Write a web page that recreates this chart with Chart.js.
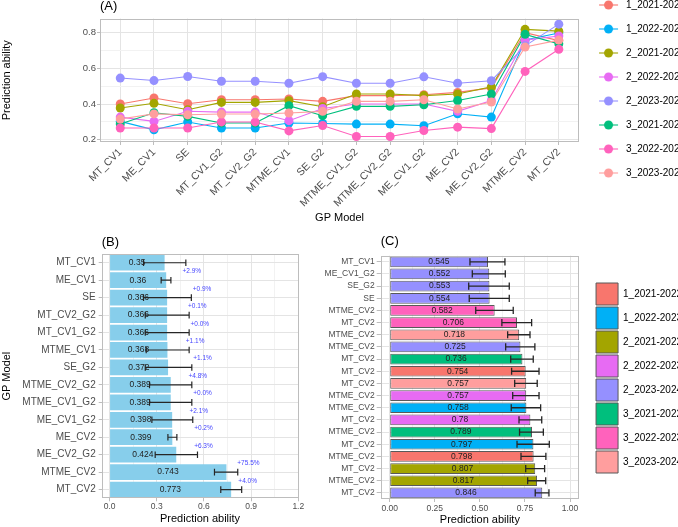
<!DOCTYPE html>
<html>
<head>
<meta charset="utf-8">
<script src="https://cdn.jsdelivr.net/npm/chart.js@4.4.1/dist/chart.umd.min.js"></script>
<style>
  html, body { margin: 0; padding: 0; background: #fff; }
  body { position: relative; width: 678px; height: 527px; overflow: hidden; }
  canvas { position: absolute; }
</style>
</head>
<body>
<canvas id="chartA" width="695" height="243" style="left:0;top:-14px"></canvas>
<canvas id="chartB" width="320" height="298" style="left:0;top:229px"></canvas>
<canvas id="chartC" width="392" height="298" style="left:300px;top:229px"></canvas>
<script>
Chart.defaults.font.family = "'Liberation Sans', Arial, sans-serif";
Chart.defaults.color = "#4D4D4D";

// shared
var gpModels = ["MT_CV1", "ME_CV1", "SE", "MT_CV1_G2", "MT_CV2_G2", "MTME_CV1", "SE_G2",
  "MTME_CV1_G2", "MTME_CV2_G2", "ME_CV1_G2", "ME_CV2", "ME_CV2_G2", "MTME_CV2", "MT_CV2"];
var groups = ["1_2021-2022", "1_2022-2023", "2_2021-2022", "2_2022-2023",
  "2_2023-2024", "3_2021-2022", "3_2022-2023", "3_2023-2024"];
var groupColors = ["#F8766D", "#00B0F6", "#A3A500", "#E76BF3", "#9590FF", "#00BF7D", "#FF62BC", "#FF9E9E"];

// (A) prediction ability per group, in gpModels order
var pa1_2122 = [0.400, 0.434, 0.402, 0.424, 0.424, 0.428, 0.415, 0.447, 0.447, 0.452, 0.465, 0.490, 0.798, 0.754];
var pa1_2223 = [0.303, 0.256, 0.300, 0.266, 0.266, 0.294, 0.291, 0.288, 0.288, 0.279, 0.346, 0.327, 0.758, 0.797];
var pa2_2122 = [0.378, 0.404, 0.368, 0.409, 0.409, 0.419, 0.385, 0.456, 0.456, 0.447, 0.456, 0.496, 0.817, 0.807];
var pa2_2223 = [0.327, 0.303, 0.360, 0.355, 0.355, 0.307, 0.375, 0.400, 0.400, 0.400, 0.359, 0.420, 0.757, 0.780];
var pa2_2324 = [0.545, 0.531, 0.554, 0.527, 0.527, 0.516, 0.553, 0.516, 0.516, 0.552, 0.516, 0.530, 0.725, 0.846];
var pa3_2122 = [0.288, 0.351, 0.331, 0.294, 0.294, 0.391, 0.335, 0.387, 0.387, 0.396, 0.420, 0.456, 0.789, 0.736];
var pa3_2223 = [0.266, 0.266, 0.266, 0.300, 0.300, 0.250, 0.280, 0.219, 0.219, 0.252, 0.271, 0.263, 0.582, 0.706];
var pa3_2324 = [0.316, 0.345, 0.340, 0.344, 0.344, 0.350, 0.359, 0.415, 0.415, 0.424, 0.372, 0.411, 0.718, 0.757];
var seriesA = [pa1_2122, pa1_2223, pa2_2122, pa2_2223, pa2_2324, pa3_2122, pa3_2223, pa3_2324];
var yTicksA = [0.2, 0.4, 0.6, 0.8];
var yMinorA = [0.3, 0.5, 0.7];

// (B) mean over groups
var modelsB = ["MT_CV1", "ME_CV1", "SE", "MT_CV2_G2", "MT_CV1_G2", "MTME_CV1", "SE_G2",
  "MTME_CV2_G2", "MTME_CV1_G2", "ME_CV1_G2", "ME_CV2", "ME_CV2_G2", "MTME_CV2", "MT_CV2"];
var meanB = [0.35, 0.36, 0.366, 0.366, 0.366, 0.368, 0.372, 0.389, 0.389, 0.398, 0.399, 0.424, 0.743, 0.773];
var lowB = [0.216, 0.328, 0.216, 0.227, 0.227, 0.233, 0.227, 0.254, 0.254, 0.269, 0.371, 0.290, 0.667, 0.707];
var highB = [0.485, 0.390, 0.520, 0.506, 0.506, 0.506, 0.523, 0.523, 0.523, 0.529, 0.428, 0.559, 0.815, 0.840];
var gainB = [2.9, 0.9, 0.1, 0.0, 1.1, 1.1, 4.8, 0.0, 2.1, 0.2, 6.3, 75.5, 4.0];
var xTicksB = [0, 0.3, 0.6, 0.9, 1.2];
var xMinorB = [0.15, 0.45, 0.75, 1.05];

// (C) top 20 model x group
var modelsC = ["MT_CV1", "ME_CV1_G2", "SE_G2", "SE", "MTME_CV2", "MT_CV2", "MTME_CV2", "MTME_CV2", "MT_CV2", "MT_CV2",
  "MT_CV2", "MTME_CV2", "MTME_CV2", "MT_CV2", "MTME_CV2", "MT_CV2", "MTME_CV2", "MT_CV2", "MTME_CV2", "MT_CV2"];
var groupC = ["2_2023-2024", "2_2023-2024", "2_2023-2024", "2_2023-2024", "3_2022-2023", "3_2022-2023", "3_2023-2024",
  "2_2023-2024", "3_2021-2022", "1_2021-2022", "3_2023-2024", "2_2022-2023", "1_2022-2023", "2_2022-2023",
  "3_2021-2022", "1_2022-2023", "1_2021-2022", "2_2021-2022", "2_2021-2022", "2_2023-2024"];
var meanC = [0.545, 0.552, 0.553, 0.554, 0.582, 0.706, 0.718, 0.725, 0.736, 0.754,
  0.757, 0.757, 0.758, 0.78, 0.789, 0.797, 0.798, 0.807, 0.817, 0.846];
var lowC = [0.445, 0.458, 0.438, 0.441, 0.477, 0.622, 0.654, 0.643, 0.671, 0.676,
  0.693, 0.682, 0.674, 0.717, 0.720, 0.706, 0.728, 0.754, 0.765, 0.807];
var highC = [0.639, 0.641, 0.663, 0.663, 0.685, 0.787, 0.778, 0.805, 0.796, 0.828,
  0.818, 0.828, 0.837, 0.843, 0.852, 0.885, 0.866, 0.859, 0.865, 0.883];
var xTicksC = [0, 0.25, 0.5, 0.75, 1];
var xMinorC = [0.125, 0.375, 0.625, 0.875];

var GRID = "#E4E4E4", GRID_MINOR = "#F2F2F2", FRAME = "#BDBDBD", NONE = "rgba(0,0,0,0)";
var FONT = "'Liberation Sans', Arial, sans-serif";

function tickSet(major, minor) {
  return function (scale) {
    scale.ticks = major.concat(minor).map(function (v) { return { value: v }; });
  };
}
function byMajor(major, a, b) {
  return function (ctx) { return ctx.tick && major.indexOf(ctx.tick.value) >= 0 ? a : b; };
}
function axisTitle(text, pad) {
  return { display: true, text: text, color: "#000", font: { size: 11 }, padding: pad };
}
function panelTitle(text, pad) {
  return { display: true, text: text, align: "start", fullSize: false, color: "#000", font: { size: 13, weight: "normal" }, padding: pad };
}

var panelFrame = {
  id: "panelFrame",
  afterDatasetsDraw: function (chart) {
    var a = chart.chartArea, ctx = chart.ctx;
    ctx.save();
    ctx.strokeStyle = FRAME;
    ctx.lineWidth = 1;
    ctx.strokeRect(Math.round(a.left) + 0.5, Math.round(a.top) + 0.5,
      Math.round(a.right - a.left) - 1, Math.round(a.bottom - a.top) - 1);
    ctx.restore();
  }
};

function errorBars(lows, highs, cap, width) {
  return {
    id: "errorBars",
    afterDatasetsDraw: function (chart) {
      var x = chart.scales.x, y = chart.scales.y, ctx = chart.ctx;
      ctx.save();
      ctx.strokeStyle = "#262626";
      ctx.lineWidth = width;
      lows.forEach(function (lo, i) {
        var yc = y.getPixelForValue(i);
        var x0 = x.getPixelForValue(lo), x1 = x.getPixelForValue(highs[i]);
        ctx.beginPath();
        ctx.moveTo(x0, yc); ctx.lineTo(x1, yc);
        ctx.moveTo(x0, yc - cap); ctx.lineTo(x0, yc + cap);
        ctx.moveTo(x1, yc - cap); ctx.lineTo(x1, yc + cap);
        ctx.stroke();
      });
      ctx.restore();
    }
  };
}

function barValues(values, size) {
  return {
    id: "barValues",
    afterDatasetsDraw: function (chart) {
      var x = chart.scales.x, y = chart.scales.y, ctx = chart.ctx;
      ctx.save();
      ctx.font = size + "px " + FONT;
      ctx.fillStyle = "#222";
      ctx.textAlign = "center";
      ctx.textBaseline = "middle";
      values.forEach(function (v, i) {
        ctx.fillText(String(v), x.getPixelForValue(v / 2), y.getPixelForValue(i));
      });
      ctx.restore();
    }
  };
}

// "+x.x%" gain vs. previous model, written between rows
var gainLabels = {
  id: "gainLabels",
  afterDatasetsDraw: function (chart) {
    var x = chart.scales.x, y = chart.scales.y, ctx = chart.ctx;
    ctx.save();
    ctx.font = "6.5px " + FONT;
    ctx.fillStyle = "#4646FF";
    ctx.textAlign = "center";
    ctx.textBaseline = "middle";
    gainB.forEach(function (g, k) {
      var i = k + 1;
      var at = Math.max(highB[i - 1], highB[i]) + (i % 2 ? 0.038 : 0.068);
      ctx.fillText("+" + g.toFixed(1) + "%", x.getPixelForValue(at), y.getPixelForValue(i - 0.5));
    });
    ctx.restore();
  }
};

function legendIcon(color) {
  var c = document.createElement("canvas");
  c.width = 28; c.height = 12;
  var g = c.getContext("2d");
  g.strokeStyle = color;
  g.lineWidth = 1.1;
  g.beginPath(); g.moveTo(6, 6); g.lineTo(25, 6); g.stroke();
  g.fillStyle = color;
  g.beginPath(); g.arc(15.5, 6, 4.5, 0, Math.PI * 2); g.fill();
  return c;
}

// ---------- (A) ----------
var datasetsA = [];
groups.forEach(function (g, k) {
  var pts = seriesA[k].map(function (v, i) { return { x: i, y: v }; });
  datasetsA.push({
    label: g, data: pts, borderColor: groupColors[k], borderWidth: 1.1,
    pointRadius: 0, order: 100 + groups.length - k
  });
  datasetsA.push({
    label: g, data: pts, showLine: false, pointRadius: 4.5, pointBorderWidth: 0,
    pointBackgroundColor: groupColors[k], borderColor: groupColors[k], order: groups.length - k
  });
});

new Chart(document.getElementById("chartA"), {
  type: "line",
  data: { datasets: datasetsA },
  options: {
    responsive: false,
    animation: false,
    plugins: {
      title: panelTitle("(A)", { top: 13, bottom: 4 }),
      legend: {
        position: "right",
        align: "start",
        maxWidth: 200,
        labels: {
          usePointStyle: true,
          pointStyleWidth: 28,
          padding: 14,
          color: "#1A1A1A",
          font: { size: 10 },
          generateLabels: function () {
            return groups.map(function (g, k) {
              return { text: g, pointStyle: legendIcon(groupColors[k]), fillStyle: groupColors[k],
                strokeStyle: groupColors[k], lineWidth: 0, hidden: false, datasetIndex: k * 2 };
            });
          }
        }
      },
      tooltip: { enabled: false }
    },
    scales: {
      x: {
        type: "linear",
        min: -0.6,
        max: 13.6,
        afterBuildTicks: function (s) { s.ticks = gpModels.map(function (m, i) { return { value: i }; }); },
        afterFit: function (s) { s.height = 87; },
        ticks: {
          autoSkip: false, minRotation: 45, maxRotation: 45, padding: 1, font: { size: 10.5 },
          callback: function (v) { return gpModels[v]; }
        },
        grid: { color: GRID, tickColor: FRAME, tickLength: 3 },
        border: { display: false },
        title: axisTitle("GP Model", { top: 0, bottom: 4.4 })
      },
      y: {
        min: 0.188,
        max: 0.877,
        afterBuildTicks: tickSet(yTicksA, yMinorA),
        afterFit: function (s) { s.width = 100; },
        ticks: {
          padding: 1, font: { size: 9.5 },
          callback: function (v) { return yTicksA.indexOf(v) >= 0 ? v.toFixed(1) : ""; }
        },
        grid: { color: byMajor(yTicksA, GRID, GRID_MINOR), tickColor: byMajor(yTicksA, FRAME, NONE), tickLength: 3 },
        border: { display: false },
        title: axisTitle("Prediction ability", { top: 0, bottom: 0 })
      }
    }
  },
  plugins: [panelFrame]
});

// ---------- (B) ----------
new Chart(document.getElementById("chartB"), {
  type: "bar",
  data: {
    labels: modelsB,
    datasets: [{ data: meanB, backgroundColor: "#87CEEB", borderWidth: 0, barPercentage: 0.9, categoryPercentage: 1 }]
  },
  options: {
    indexAxis: "y",
    responsive: false,
    animation: false,
    layout: { padding: { right: 21.7 } },
    plugins: {
      title: panelTitle("(B)", { top: 5.9, bottom: 3.5 }),
      legend: { display: false },
      tooltip: { enabled: false }
    },
    scales: {
      x: {
        min: -0.05,
        max: 1.2,
        afterBuildTicks: tickSet(xTicksB, xMinorB),
        afterFit: function (s) { s.height = 28.7; },
        ticks: {
          padding: 0, font: { size: 8.5 },
          callback: function (v) { return xTicksB.indexOf(v) >= 0 ? v.toFixed(1) : ""; }
        },
        grid: { color: byMajor(xTicksB, GRID, GRID_MINOR), tickColor: byMajor(xTicksB, FRAME, NONE), tickLength: 3 },
        border: { display: false },
        title: axisTitle("Prediction ability", { top: 0, bottom: 1 })
      },
      y: {
        afterFit: function (s) { s.width = 101.7; },
        ticks: { autoSkip: false, padding: 3, font: { size: 10 } },
        grid: { offset: false, color: GRID, tickColor: FRAME, tickLength: 3 },
        border: { display: false },
        title: axisTitle("GP Model", { top: 0, bottom: 0 })
      }
    }
  },
  plugins: [barValues(meanB, 8.5), errorBars(lowB, highB, 3.3, 1.2), gainLabels, panelFrame]
});

// ---------- (C) ----------
new Chart(document.getElementById("chartC"), {
  type: "bar",
  data: {
    labels: modelsC,
    datasets: [{
      data: meanC,
      backgroundColor: groupC.map(function (g) { return groupColors[groups.indexOf(g)]; }),
      borderColor: "#595959",
      borderWidth: 1,
      borderSkipped: false,
      barPercentage: 0.88,
      categoryPercentage: 1
    }]
  },
  options: {
    indexAxis: "y",
    responsive: false,
    animation: false,
    plugins: {
      title: panelTitle("(C)", { top: 4.9, bottom: 6.2 }),
      legend: {
        position: "right",
        align: "center",
        maxWidth: 200,
        labels: {
          boxWidth: 22,
          boxHeight: 22,
          padding: 2,
          color: "#1A1A1A",
          font: { size: 10 },
          generateLabels: function () {
            return groups.map(function (g, k) {
              return { text: g, fillStyle: groupColors[k], strokeStyle: "#595959", lineWidth: 1, hidden: false, index: k };
            });
          }
        }
      },
      tooltip: { enabled: false }
    },
    scales: {
      x: {
        min: -0.05,
        max: 1.05,
        afterBuildTicks: tickSet(xTicksC, xMinorC),
        afterFit: function (s) { s.height = 28; },
        ticks: {
          padding: 2, font: { size: 8.5 },
          callback: function (v) { return xTicksC.indexOf(v) >= 0 ? v.toFixed(2) : ""; }
        },
        grid: { color: byMajor(xTicksC, GRID, GRID_MINOR), tickColor: byMajor(xTicksC, FRAME, NONE), tickLength: 3 },
        border: { display: false },
        title: axisTitle("Prediction ability", { top: 0, bottom: 0.5 })
      },
      y: {
        afterFit: function (s) { s.width = 80.7; },
        ticks: { autoSkip: false, padding: 2, font: { size: 8.5 } },
        grid: { offset: false, color: GRID, tickColor: FRAME, tickLength: 4 },
        border: { display: false }
      },
      gap: {
        type: "linear",
        position: "right",
        min: 0,
        max: 1,
        grid: { display: false },
        ticks: { display: false },
        border: { display: false },
        afterFit: function (s) { s.width = 15; }
      }
    }
  },
  plugins: [barValues(meanC, 8.5), errorBars(lowC, highC, 3.6, 1.3), panelFrame]
});
</script>
</body>
</html>
